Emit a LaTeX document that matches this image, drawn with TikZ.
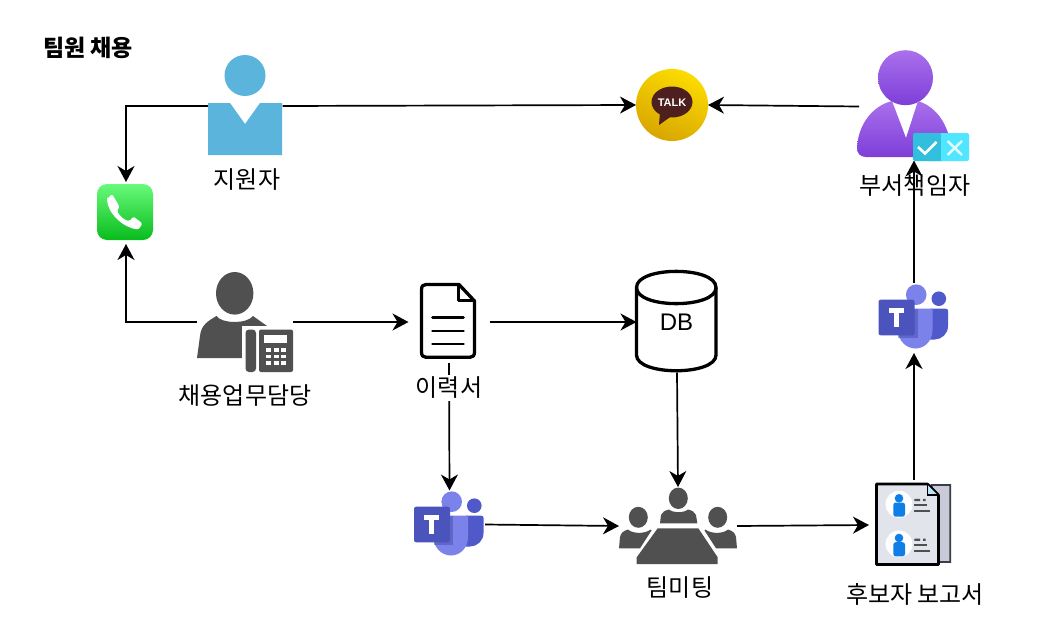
\documentclass[tikz,border=0pt]{standalone}
\usepackage{fontspec}
\setmainfont{Noto Sans CJK KR}
\newfontfamily\arialf{Liberation Sans}
\usetikzlibrary{arrows.meta}
\definecolor{dgray}{HTML}{505050}
\definecolor{skyb}{HTML}{5AB4DB}
\definecolor{tmA}{HTML}{7B83EB}
\definecolor{tmB}{HTML}{5059C9}
\definecolor{tmC}{HTML}{4B53BC}
\definecolor{tmD}{HTML}{3F459F}
\definecolor{kakaoA}{HTML}{FCDC00}
\definecolor{kakaoB}{HTML}{D8A600}
\definecolor{kakaoC}{HTML}{4E1F1F}
\definecolor{purpA}{HTML}{AA70EC}
\definecolor{purpB}{HTML}{7E3ED8}
\definecolor{cyanA}{HTML}{50E6FF}
\definecolor{cyanB}{HTML}{32BEDD}
\definecolor{greenA}{HTML}{68FA7A}
\definecolor{greenB}{HTML}{08BC1C}
\definecolor{pageA}{HTML}{C8CAD8}
\definecolor{pageB}{HTML}{E2E4EC}
\definecolor{pageC}{HTML}{3C3C46}
\definecolor{foldc}{HTML}{BEE2F5}
\definecolor{personb}{HTML}{0F7EE6}
\tikzset{
  x=1pt,y=-1pt,
  anchorbox/.style={inner sep=0pt,outer sep=0pt,minimum width=#1},
  conn/.style={line width=1.7pt,-{Stealth[length=16pt,width=17pt,inset=5pt]}},
  lbl/.style={inner sep=0pt,font=\fontsize{24}{28}\selectfont,text=black},
  teamsicon/.pic={
    \fill[tmA] (451.7,501.7) circle[radius=10.3];
    \fill[tmB] (474.3,505.7) circle[radius=7.3];
    \fill[tmB] (466,515.7) -- (481,515.7) .. controls (482.8,515.7) and (483.5,516.5) .. (483.5,518) -- (483.5,533) .. controls (483.5,541) and (477,546.5) .. (470,546.5) -- (462,546.5) -- cycle;
    \fill[tmA] (433,515.7) -- (468,515.7) -- (468,537) .. controls (468,548) and (460,555.5) .. (451,555.5) .. controls (442,555.5) and (433.5,548) .. (433.5,537) -- cycle;
    \fill[tmD,opacity=.45] (433.5,515.7) rectangle (453,544.5);
    \fill[tmC,rounded corners=2.2pt] (414,506.7) rectangle (450,542.3);
    \fill[white] (424,515) rectangle (439.3,520);
    \fill[white] (429,515) rectangle (434.3,534.3);
  }
}
\begin{document}
\begin{tikzpicture}
\useasboundingbox (0,0) rectangle (1041,642);
\fill[white] (0,0) rectangle (1041,642);

% anchor nodes
\node[anchorbox=74pt,minimum height=100pt] (applicant) at (245.5,106) {};
\node[anchorbox=72pt,minimum height=72pt] (talk) at (672,105) {};
\node[anchorbox=110pt,minimum height=108pt] (boss) at (914,106.5) {};
\node[anchorbox=56pt,minimum height=62pt] (phone) at (126,213) {};
\node[anchorbox=96pt,minimum height=100pt] (officer) at (245,322) {};
\node[anchorbox=81pt,minimum height=82pt] (doc) at (449,322) {};
\node[anchorbox=81pt,minimum height=101pt] (db) at (677,322) {};
\node[anchorbox=71pt,minimum height=68pt] (teamsA) at (449.5,524.5) {};
\node[anchorbox=118pt,minimum height=78pt] (meet) at (678,526) {};
\node[anchorbox=90pt,minimum height=90pt] (report) at (914,525) {};
\node[anchorbox=71pt,minimum height=70pt] (teamsB) at (914,318) {};

% connectors
\draw[conn] (applicant.west) -| (phone.north);
\draw[conn] (applicant.east) -- (talk.west);
\draw[conn] (boss.west) -- (talk.east);
\draw[conn] (officer.west) -| (phone.south);
\draw[conn] (officer.east) -- (doc.west);
\draw[conn] (doc.east) -- (db.west);
\draw[conn] (doc.south) -- (teamsA.north);
\draw[conn] (db.south) -- (meet.north);
\draw[conn] (teamsA.east) -- (meet.west);
\draw[conn] (meet.east) -- (report.west);
\draw[conn] (report.north) -- (teamsB.south);
\draw[conn] (teamsB.north) -- (boss.south);

% applicant icon
\fill[skyb] (245,75.5) circle[radius=20.5];
\fill[skyb] (208,103) -- (230,103) -- (245,124) -- (260,103) -- (282,103) -- (282,155) -- (208,155) -- cycle;

% kakao icon
\shade[top color=kakaoA,bottom color=kakaoB,shading angle=-25] (672,105) circle[radius=36];
\fill[kakaoC] (672,102) ellipse[x radius=20.5,y radius=15.5];
\fill[kakaoC] (660,112) -- (659,125) -- (673,115) -- cycle;
\node[inner sep=0pt,text=white,font=\arialf\bfseries\fontsize{11}{12}\selectfont] (talktext) at (672,103) {TALK};

% boss icon
\shade[top color=purpA,bottom color=purpB] (905.5,77.7) circle[radius=27.5];
\shade[top color=purpA,bottom color=purpB]
  (892,101) -- (906,138) -- (918,101) .. controls (937,107) and (949,125) .. (951.5,150) -- (951.5,157) -- (866,157) .. controls (860,157) and (857,153) .. (857,148) .. controls (858,125) and (872,106) .. (892,101) -- cycle;
\fill[cyanA,rounded corners=2pt] (925,133) rectangle (969,161);
\fill[cyanB,rounded corners=2pt] (913,133) rectangle (945,161);
\fill[cyanA] (941,133) rectangle (950,161);
\draw[white,line width=2.6pt] (918,147) -- (925,153.5) -- (936.5,142);
\draw[white,opacity=.85,line width=2.4pt] (947.5,141) -- (962,155) (962,141) -- (947.5,155);

% phone icon
\shade[rounded corners=10pt,top color=greenA,bottom color=greenB] (97,184) rectangle (153,240);
\fill[white,rounded corners=1.5pt] (107,199) -- (112,194) -- (119.5,206.5) -- (117,211) .. controls (120,216) and (124,220) .. (129.5,221) -- (133.5,216.5) -- (142.5,223.5) -- (138.5,229.5) .. controls (124,228) and (108,214) .. (107,199) -- cycle;

% officer icon
\fill[dgray] (234.7,293.3) ellipse[x radius=18.7,y radius=21.3];
\fill[dgray] (197,358) -- (200,336) .. controls (201,325) and (208,321) .. (216.5,316) .. controls (222,324) and (247,324) .. (253,316) -- (267,326) -- (267,358) -- cycle;
\fill[white] (242,326) rectangle (296,375);
\fill[dgray,rounded corners=3.5pt] (245.5,329.5) rectangle (256,372);
\fill[dgray,rounded corners=2pt] (259,329.5) rectangle (293,372);
\fill[white] (264.3,335) rectangle (286.7,343.3);
\foreach \kx in {266,273.5,281}{\foreach \ky in {348.3,354.8,361.3}{\fill[white] (\kx,\ky) rectangle ++(5.2,3.6);}}

% document icon
\draw[black,line width=3.3pt,line join=round,fill=white] (426,284.5) -- (459,284.5) -- (474.5,301) -- (474.5,352) .. controls (474.5,355.5) and (473,357.3) .. (470,357.3) -- (426,357.3) .. controls (423,357.3) and (421.5,355.5) .. (421.5,352) -- (421.5,290) .. controls (421.5,286) and (423,284.5) .. (426,284.5) -- cycle;
\draw[black,line width=3pt,line join=round] (458,285) -- (458,300.5) -- (474,300.5);
\draw[black,line width=2.8pt,line cap=round] (432.5,317.7) -- (463.5,317.7) (432.5,331) -- (463.5,331) (432.5,344) -- (463.5,344);

% DB icon
\draw[black,line width=3.3pt,fill=white] (636.5,287.5) .. controls (636.5,266) and (716,266) .. (716,287.5) -- (716,355) .. controls (716,376) and (636.5,376) .. (636.5,355) -- cycle;
\draw[black,line width=3.3pt] (636.5,287.5) .. controls (636.5,309) and (716,309) .. (716,287.5);
\node[inner sep=0pt,font=\arialf\fontsize{24}{28}\selectfont] (dbtext) at (676.5,322) {DB};

% teams icons
\pic at (0,0) {teamsicon};
\begin{scope}[shift={(464.5,-207)}]
\pic at (0,0) {teamsicon};
\end{scope}

% meeting icon
\fill[dgray] (678.3,498.3) ellipse[x radius=9.5,y radius=10.7];
\fill[dgray] (660,523.3) -- (661,515) .. controls (662,512) and (665,510.5) .. (669,509.5) .. controls (673,513) and (684,513) .. (688,509.5) .. controls (692,510.5) and (695,512) .. (696,515) -- (697.3,523.3) -- cycle;
\fill[dgray] (638.3,517.3) ellipse[x radius=9.5,y radius=10.5];
\fill[dgray] (619,548.3) -- (620,537) .. controls (621,533) and (623,531) .. (628,529.5) .. controls (633,534) and (645,534) .. (650.7,529.5) -- (651.5,530.5) -- (640,548.3) -- cycle;
\fill[dgray] (717.7,517.3) ellipse[x radius=9.5,y radius=10.5];
\fill[dgray] (737,548.3) -- (736,537) .. controls (735,533) and (733,531) .. (728,529.5) .. controls (723,534) and (711,534) .. (705.3,529.5) -- (704.5,530.5) -- (716,548.3) -- cycle;
\fill[dgray] (657.7,528.3) -- (698.3,528.3) -- (717.7,557.3) -- (717.7,564) -- (636.7,564) -- (636.7,557.3) -- cycle;

% report icon
\draw[fill=pageA,draw=pageC,line width=1.8pt] (931.5,485) -- (950.3,485) -- (950.3,562) -- (938,562) -- cycle;
\draw[fill=pageB,draw=black,line width=2.6pt,line join=round] (876.5,484) -- (927.5,484) -- (938.5,495) -- (938.5,564.5) -- (876.5,564.5) -- cycle;
\fill[foldc] (928,485.5) -- (937,494.5) -- (928,494.5) -- cycle;
\draw[black,line width=1.4pt] (927.5,484) -- (927.5,495) -- (938.5,495);
\foreach \oy in {0,39.7}{
  \begin{scope}[yshift=-\oy pt]
  \fill[white] (899,504.3) circle[radius=13.5];
  \fill[personb] (899,498.3) circle[radius=4.3];
  \fill[personb,rounded corners=2.5pt] (893.3,502.5) rectangle (905,516.7);
  \fill[dgray] (914.3,498.8) rectangle (920,501.2) (923,498.8) rectangle (925.5,501.2);
  \fill[dgray] (914.3,504.2) rectangle (927,506.4);
  \fill[dgray] (914.3,510) rectangle (930,512.3);
  \end{scope}
}

% labels
\node[lbl,font=\bfseries\fontsize{23}{28}\selectfont] (title) at (88,48) {팀원 채용};
\node[lbl] (l1) at (247,180) {지원자};
\node[lbl] (l2) at (915,186) {부서책임자};
\node[lbl] (l3) at (245,396) {채용업무담당};
\node[lbl,fill=white,inner ysep=2pt] (l4) at (449,388) {이력서};
\node[lbl] (l5) at (680,588) {팀미팅};
\node[lbl] (l6) at (915,594) {후보자 보고서};
\end{tikzpicture}
\end{document}
